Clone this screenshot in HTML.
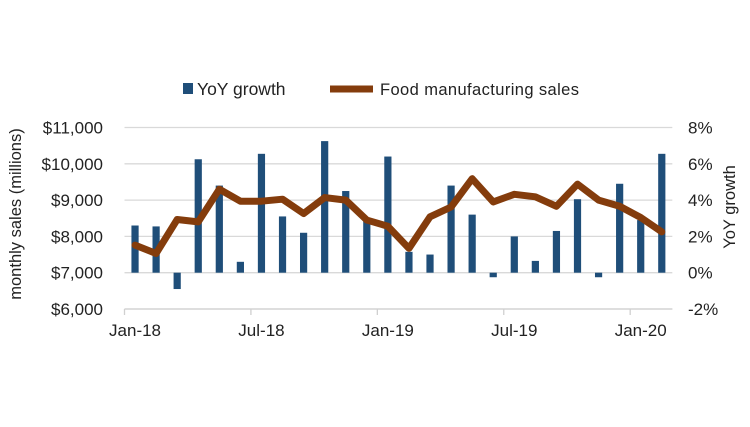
<!DOCTYPE html>
<html><head><meta charset="utf-8"><style>
body{margin:0;background:#fff;}
svg text{font-family:"Liberation Sans",sans-serif;fill:#222;}
</style></head><body>
<svg width="750" height="422">
<g id="grid"></g>
<g id="bars"></g>
<g id="line"></g>
<g id="axes"></g>
<g>
 <rect x="183" y="83" width="10" height="11" fill="#1f4e79"/>
 <text x="197" y="95" font-size="17.5">YoY growth</text>
 <line x1="330" y1="89" x2="373" y2="89" stroke="#843c0c" stroke-width="7"/>
 <text x="380" y="95" font-size="16.5" textLength="199">Food manufacturing sales</text>
</g>
<text transform="translate(21,214) rotate(-90)" text-anchor="middle" font-size="16.5">monthly sales (millions)</text>
<text transform="translate(735,207) rotate(-90)" text-anchor="middle" font-size="16.5">YoY growth</text>
</svg>
<script>
const months=["Jan-18","Feb-18","Mar-18","Apr-18","May-18","Jun-18","Jul-18","Aug-18","Sep-18","Oct-18","Nov-18","Dec-18","Jan-19","Feb-19","Mar-19","Apr-19","May-19","Jun-19","Jul-19","Aug-19","Sep-19","Oct-19","Nov-19","Dec-19","Jan-20","Feb-20"];
const yoy=[2.6,2.55,-0.9,6.25,4.8,0.6,6.55,3.1,2.2,7.25,4.5,2.9,6.4,1.15,1.0,4.8,3.2,-0.25,2.0,0.65,2.3,4.05,-0.25,4.9,2.9,6.55];
const sales=[7760,7530,8466,8400,9300,8970,8970,9025,8630,9070,9000,8450,8280,7670,8540,8810,9590,8950,9160,9090,8830,9440,9000,8830,8520,8125];
const leftTicks=[6000,7000,8000,9000,10000,11000];
const rightTicks=[-2,0,2,4,6,8];
const xLabels=["Jan-18","Jul-18","Jan-19","Jul-19","Jan-20"];
const NS="http://www.w3.org/2000/svg";
const x0=124.5,step=21.07;
const xC=i=>x0+step*(i+0.5);
const yL=v=>309-(v-6000)/1000*36.3;
const yR=v=>272.7-v*18.15;
function mk(t,a,p){const e=document.createElementNS(NS,t);for(const k in a)e.setAttribute(k,a[k]);p.appendChild(e);return e;}
const grid=document.getElementById('grid'),axes=document.getElementById('axes');
const xEnd=x0+step*months.length;
leftTicks.forEach((v,i)=>{
 const g=mk('line',{x1:x0,x2:xEnd,y1:yL(v),y2:yL(v),stroke:'#d9d9d9','stroke-width':1.3},grid);
 
 
 const t=mk('text',{x:103,y:yL(v)+6,'text-anchor':'end','font-size':17},axes);
 t.textContent='$'+v.toLocaleString('en-US');
 
 
});
rightTicks.forEach(v=>{
 const t=mk('text',{x:688,y:yR(v)+6,'font-size':17},axes);
 t.textContent=v+'%';
 
 
});
const bars=document.getElementById('bars');
yoy.forEach((v,i)=>{
 const y=Math.min(yR(v),yR(0)),h=Math.abs(yR(v)-yR(0));
 const r=mk('rect',{x:xC(i)-3.6,y:y,width:7.2,height:h,fill:'#1f4e79'},bars);
 
 
});
const ax=mk('line',{x1:x0,x2:xEnd,y1:309,y2:309,stroke:'#d0d0d0','stroke-width':1.3},axes);


xLabels.forEach(l=>{
 const i=months.indexOf(l);
 const tk=mk('line',{x1:xC(i)-step/2,x2:xC(i)-step/2,y1:309,y2:315,stroke:'#d0d0d0','stroke-width':1.3},axes);
 
 
 const t=mk('text',{x:xC(i),y:336,'text-anchor':'middle','font-size':17},axes);
 t.textContent=l;
 
 
});
const pts=sales.map((v,i)=>xC(i)+','+yL(v)).join(' ');
const pl=mk('polyline',{points:pts,fill:'none',stroke:'#843c0c','stroke-width':7,'stroke-linejoin':'round','stroke-linecap':'round'},document.getElementById('line'));


</script>
</body></html>
